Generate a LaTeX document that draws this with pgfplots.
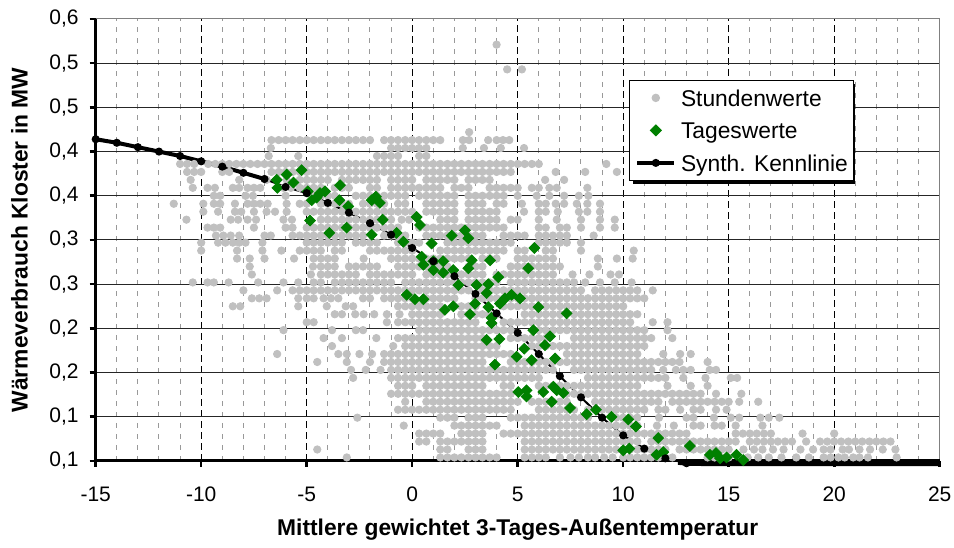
\documentclass[border=0pt]{standalone}
\usepackage{pgfplots}
\pgfplotsset{compat=1.18}
\usepackage{fontspec}
\setmainfont{Liberation Sans}
\definecolor{stunde}{RGB}{192,192,192}
\definecolor{tag}{RGB}{0,128,0}

\begin{document}
\begin{tikzpicture}
\begin{axis}[
  scale only axis, width=422pt, height=221pt,
  xmin=-15, xmax=25, ymin=0.1, ymax=0.6,
  clip=false,
  axis line style={draw=none},
  xtick={-15,-10,-5,0,5,10,15,20,25},
  xticklabels={-15,-10,-5,0,5,10,15,20,25},
  ytick={0.1,0.15,0.2,0.25,0.3,0.35,0.4,0.45,0.5,0.55,0.6},
  yticklabels={{0,1},{0,1},{0,2},{0,2},{0,3},{0,3},{0,4},{0,4},{0,5},{0,5},{0,6}},
  minor x tick num=4,
  xmajorgrids, xminorgrids, ymajorgrids,
  major x grid style={black, line width=0.5pt, dash pattern=on 3.3pt off 2.2pt},
  minor x grid style={black!40, line width=0.5pt, dash pattern=on 2.5pt off 3pt},
  major y grid style={black!85, line width=0.5pt},
  tick align=outside, xtick pos=left, ytick pos=left,
  major tick length=3pt, minor tick length=0pt,
  tick style={black, line width=1.3pt},
  tick label style={font=\fontsize{10.5}{12}\selectfont},
  xticklabel style={anchor=north, inner sep=0pt},
  xticklabel shift=9.85pt,
  yticklabel style={anchor=east, inner sep=0pt},
  yticklabel shift=5.35pt,
  xlabel={Mittlere gewichtet 3-Tages-Außentemperatur},
  ylabel={Wärmeverbrauch Kloster in MW},
  every axis x label/.style={at={(axis description cs:0.5,-0.1697)}, anchor=base,
    font=\bfseries\fontsize{11.4}{13.7}\selectfont},
  every axis y label/.style={at={(axis description cs:-0.0903,0.5)}, anchor=center, rotate=90,
    font=\bfseries\fontsize{11.4}{13.7}\selectfont},
  legend cell align=left,
  legend style={at={(axis description cs:0.632,0.862)}, anchor=north west,
    draw=black, line width=0.5pt, fill=white,
    font=\fontsize{11.4}{13.7}\selectfont,
    inner xsep=2.85pt, inner ysep=2.1pt, row sep=3.05pt, column sep=2.35pt,
    nodes={inner sep=0pt, text height=10.7pt, text depth=2.5pt}},
]
% frame: thin grey top/right, heavy black left/bottom
\draw[black!50, line width=0.5pt] (rel axis cs:0,1) -- (rel axis cs:1,1) -- (rel axis cs:1,0);
\draw[black, line width=1.5pt] (rel axis cs:0,1) -- (rel axis cs:0,0) -- (rel axis cs:1,0);

% hourly values
\addplot[only marks, mark=*, mark size=1.85pt, color=stunde,
  mark options={draw=stunde, fill=stunde},
  legend image code/.code={\fill[stunde] (9.25pt,0pt) circle (1.85pt);}]
coordinates {
(-3.1,.104) (1.33,.104) (1.67,.104) (2,.104) (2.33,.104) (2.67,.104) (3,.104) (3.33,.104) (3.67,.104) (4,.104) (5.33,.104) (5.67,.104) (6,.104) (6.33,.104) (7,.104) (7.5,.104) (7.9,.104) (8.33,.104) (8.67,.104) (9.1,.104) (9.5,.104) (10,.104) (10.33,.104) (10.67,.104) (11,.104) (11.33,.104) (11.67,.104) (12,.104) (12.33,.104) (14,.104) (14.33,.104) (14.67,.104) (15,.104) (15.9,.104) (16.4,.104) (16.9,.104) (17.5,.104) (18.2,.104) (18.8,.104) (19.5,.104) (19.83,.104) (20.2,.104) (20.5,.104) (20.9,.104) (21.2,.104) (21.6,.104) (22.96,.104)
(-4.5,.113) (1.33,.113) (1.67,.113) (2.67,.113) (3,.113) (3.33,.113) (5.33,.113) (5.67,.113) (6,.113) (6.33,.113) (6.67,.113) (7,.113) (7.33,.113) (7.67,.113) (8,.113) (8.33,.113) (8.67,.113) (9,.113) (9.33,.113) (9.67,.113) (10,.113) (10.33,.113) (10.67,.113) (11,.113) (11.33,.113) (11.67,.113) (12,.113) (12.67,.113) (13,.113) (13.33,.113) (13.67,.113) (14,.113) (14.33,.113) (14.67,.113) (15,.113) (15.7,.113) (16.2,.113) (16.6,.113) (17.1,.113) (17.6,.113) (18.4,.113) (19,.113) (19.5,.113) (19.83,.113) (20.4,.113) (20.7,.113) (21.2,.113) (21.7,.113) (22.3,.113) (22.9,.113)
(0.33,.122) (0.67,.122) (1.33,.122) (1.67,.122) (2,.122) (2.33,.122) (2.67,.122) (3,.122) (3.33,.122) (5.33,.122) (5.67,.122) (6,.122) (6.33,.122) (6.67,.122) (7,.122) (7.33,.122) (7.67,.122) (8,.122) (8.33,.122) (8.67,.122) (9,.122) (9.33,.122) (9.67,.122) (10,.122) (10.33,.122) (10.67,.122) (11.33,.122) (11.67,.122) (12,.122) (12.33,.122) (12.67,.122) (13,.122) (13.33,.122) (13.67,.122) (14,.122) (14.33,.122) (14.67,.122) (15,.122) (15.33,.122) (16,.122) (16.33,.122) (16.67,.122) (17,.122) (17.33,.122) (17.67,.122) (18,.122) (18.67,.122) (19.33,.122) (19.67,.122) (20,.122) (20.33,.122) (20.67,.122) (21,.122) (21.33,.122) (21.67,.122) (22,.122) (22.33,.122) (22.67,.122)
(0.33,.131) (0.67,.131) (1,.131) (1.33,.131) (2.33,.131) (2.67,.131) (3,.131) (3.33,.131) (4.33,.131) (4.67,.131) (5,.131) (5.33,.131) (5.67,.131) (6,.131) (6.33,.131) (6.67,.131) (7,.131) (7.33,.131) (7.67,.131) (8,.131) (8.33,.131) (8.67,.131) (9,.131) (9.33,.131) (9.67,.131) (10,.131) (10.33,.131) (10.67,.131) (11,.131) (11.33,.131) (11.67,.131) (12,.131) (12.33,.131) (12.67,.131) (13,.131) (15.33,.131) (15.67,.131) (16,.131) (16.33,.131) (16.67,.131) (17,.131) (18.5,.131) (20,.131)
(-0.4,.140) (2,.140) (2.33,.140) (2.67,.140) (3,.140) (3.33,.140) (3.67,.140) (4,.140) (5.33,.140) (5.67,.140) (6,.140) (6.33,.140) (6.67,.140) (7,.140) (7.33,.140) (7.67,.140) (8,.140) (8.33,.140) (8.67,.140) (9,.140) (9.33,.140) (9.67,.140) (10,.140) (10.33,.140) (10.67,.140) (11.6,.140) (12.4,.140) (13.33,.140) (13.67,.140) (14.33,.140) (14.67,.140) (15.33,.140) (16.6,.140)
(-2.6,.149) (1.33,.149) (1.67,.149) (2,.149) (2.67,.149) (3,.149) (3.33,.149) (4.67,.149) (5,.149) (5.33,.149) (5.67,.149) (6,.149) (6.33,.149) (6.67,.149) (7,.149) (7.33,.149) (7.67,.149) (8,.149) (8.33,.149) (9.67,.149) (10,.149) (10.33,.149) (10.67,.149) (11.7,.149) (13,.149) (13.33,.149) (14.3,.149) (15.1,.149) (15.5,.149) (16.5,.149) (16.9,.149) (17.4,.149)
(-0.67,.158) (-0.33,.158) (0,.158) (0.33,.158) (0.67,.158) (1,.158) (1.33,.158) (1.67,.158) (2,.158) (2.33,.158) (2.67,.158) (3,.158) (3.33,.158) (3.67,.158) (4,.158) (4.33,.158) (4.67,.158) (6,.158) (6.33,.158) (6.67,.158) (7,.158) (7.33,.158) (7.67,.158) (8.33,.158) (8.67,.158) (9,.158) (9.33,.158) (9.67,.158) (10,.158) (10.33,.158) (10.67,.158) (11,.158) (11.67,.158) (12,.158) (12.7,.158) (13.33,.158) (13.67,.158) (14.4,.158) (14.9,.158)
(-0.33,.167) (0.67,.167) (1,.167) (1.33,.167) (1.67,.167) (2,.167) (2.33,.167) (2.67,.167) (3,.167) (3.33,.167) (3.67,.167) (4,.167) (4.33,.167) (4.67,.167) (5,.167) (5.67,.167) (6,.167) (6.33,.167) (6.67,.167) (7,.167) (7.33,.167) (8.67,.167) (9,.167) (9.33,.167) (9.67,.167) (10,.167) (10.33,.167) (10.67,.167) (11,.167) (11.33,.167) (11.67,.167) (12.33,.167) (12.67,.167) (13,.167) (13.33,.167) (13.67,.167) (14,.167) (14.33,.167) (14.67,.167) (15,.167) (15.5,.167) (16.4,.167)
(-1,.176) (-0.67,.176) (-0.33,.176) (0,.176) (0.33,.176) (0.67,.176) (1,.176) (1.33,.176) (1.67,.176) (2,.176) (2.33,.176) (2.67,.176) (3,.176) (3.33,.176) (3.67,.176) (4,.176) (4.33,.176) (4.67,.176) (7.33,.176) (7.67,.176) (8,.176) (8.33,.176) (8.67,.176) (9,.176) (9.33,.176) (9.67,.176) (10,.176) (10.33,.176) (10.67,.176) (11,.176) (11.33,.176) (11.67,.176) (12,.176) (12.33,.176) (12.67,.176) (13,.176) (13.33,.176) (13.67,.176) (14.4,.176) (15.6,.176)
(-0.67,.185) (-0.33,.185) (0,.185) (0.67,.185) (1,.185) (1.33,.185) (1.67,.185) (2,.185) (2.33,.185) (2.67,.185) (3,.185) (3.33,.185) (4.33,.185) (4.67,.185) (6,.185) (6.33,.185) (6.67,.185) (7,.185) (7.33,.185) (7.67,.185) (8,.185) (8.33,.185) (8.67,.185) (9,.185) (9.33,.185) (9.67,.185) (10,.185) (10.33,.185) (10.67,.185) (12.1,.185) (13.2,.185) (14,.185)
(-2.8,.194) (-1,.194) (-0.67,.194) (-0.33,.194) (0,.194) (0.33,.194) (0.67,.194) (1,.194) (1.33,.194) (1.67,.194) (2,.194) (2.33,.194) (2.67,.194) (3,.194) (3.33,.194) (3.67,.194) (4,.194) (4.33,.194) (4.67,.194) (5,.194) (5.33,.194) (5.67,.194) (6,.194) (8.33,.194) (8.67,.194) (9,.194) (9.33,.194) (9.67,.194) (10,.194) (10.33,.194) (10.67,.194) (11,.194) (11.33,.194) (11.67,.194) (12,.194) (12.85,.194) (13.9,.194) (15.1,.194) (15.4,.194)
(-2.9,.203) (-2.2,.203) (-1.5,.203) (-1,.203) (-0.67,.203) (-0.33,.203) (0,.203) (0.33,.203) (0.67,.203) (1,.203) (1.33,.203) (1.67,.203) (2,.203) (2.33,.203) (2.67,.203) (3,.203) (3.33,.203) (3.67,.203) (4,.203) (4.33,.203) (4.67,.203) (5,.203) (5.33,.203) (5.67,.203) (6,.203) (6.33,.203) (6.67,.203) (7.67,.203) (8,.203) (8.33,.203) (8.67,.203) (9,.203) (9.33,.203) (9.67,.203) (10,.203) (10.33,.203) (10.67,.203) (11,.203) (11.33,.203) (11.9,.203) (12.5,.203) (12.85,.203) (13.2,.203) (14.1,.203) (14.4,.203)
(-4.5,.212) (-3.1,.212) (-2,.212) (-1.33,.212) (-1,.212) (-0.67,.212) (-0.33,.212) (0,.212) (0.33,.212) (0.67,.212) (1,.212) (1.33,.212) (1.67,.212) (2,.212) (2.33,.212) (2.67,.212) (3,.212) (3.33,.212) (4.67,.212) (5,.212) (5.33,.212) (5.67,.212) (6,.212) (6.33,.212) (6.67,.212) (7,.212) (7.33,.212) (7.67,.212) (8,.212) (8.33,.212) (8.67,.212) (9,.212) (9.33,.212) (9.67,.212) (10,.212) (10.33,.212) (10.67,.212) (11,.212) (11.33,.212) (11.67,.212) (12,.212) (12.33,.212) (12.67,.212) (14,.212)
(-6.4,.221) (-3.5,.221) (-3.1,.221) (-2.5,.221) (-1.9,.221) (-1.33,.221) (-1,.221) (-0.67,.221) (-0.33,.221) (0,.221) (0.33,.221) (0.67,.221) (1,.221) (1.33,.221) (1.67,.221) (2,.221) (2.33,.221) (2.67,.221) (3,.221) (3.33,.221) (3.67,.221) (4,.221) (4.33,.221) (4.67,.221) (7.33,.221) (7.67,.221) (8,.221) (8.33,.221) (8.67,.221) (9,.221) (9.33,.221) (9.67,.221) (10,.221) (10.33,.221) (10.67,.221) (11.9,.221) (12.7,.221) (13.2,.221)
(-3.8,.230) (-0.9,.230) (-0.33,.230) (0,.230) (0.33,.230) (0.67,.230) (1,.230) (1.33,.230) (1.67,.230) (2,.230) (2.33,.230) (2.67,.230) (3,.230) (3.33,.230) (3.67,.230) (4,.230) (5.67,.230) (6,.230) (6.33,.230) (6.67,.230) (7,.230) (7.33,.230) (7.67,.230) (8,.230) (8.33,.230) (8.67,.230) (9,.230) (9.33,.230) (9.67,.230) (10,.230) (10.33,.230) (10.67,.230) (11,.230)
(-4.2,.239) (-3.33,.239) (-1.7,.239) (-0.67,.239) (-0.33,.239) (0,.239) (0.33,.239) (0.67,.239) (1,.239) (1.33,.239) (1.67,.239) (2,.239) (2.33,.239) (2.67,.239) (3,.239) (3.33,.239) (4.67,.239) (5,.239) (5.33,.239) (5.67,.239) (6,.239) (6.33,.239) (7.67,.239) (8,.239) (8.33,.239) (8.67,.239) (9,.239) (9.33,.239) (9.67,.239) (10,.239) (10.33,.239) (10.67,.239) (11,.239) (11.33,.239) (12.33,.239)
(-6.1,.248) (-3.8,.248) (-2.67,.248) (-2.33,.248) (0.33,.248) (0.67,.248) (1,.248) (1.33,.248) (1.67,.248) (2,.248) (2.33,.248) (2.67,.248) (3,.248) (3.33,.248) (3.67,.248) (4,.248) (4.33,.248) (4.67,.248) (6,.248) (6.33,.248) (6.67,.248) (7,.248) (7.33,.248) (7.67,.248) (8,.248) (8.33,.248) (8.67,.248) (9,.248) (9.33,.248) (9.67,.248) (10,.248) (10.33,.248) (10.67,.248) (11,.248) (12.1,.248)
(-5,.257) (-4.67,.257) (-1.2,.257) (-0.67,.257) (-0.33,.257) (0,.257) (0.33,.257) (0.67,.257) (1,.257) (1.33,.257) (1.67,.257) (2,.257) (2.33,.257) (2.67,.257) (3,.257) (4.33,.257) (4.67,.257) (5,.257) (5.33,.257) (5.67,.257) (6,.257) (6.33,.257) (6.67,.257) (7,.257) (7.33,.257) (7.67,.257) (8,.257) (8.33,.257) (8.67,.257) (9,.257) (9.33,.257) (9.67,.257) (10,.257) (10.33,.257) (11.4,.257) (12.1,.257)
(-3.67,.266) (-3.33,.266) (-2.7,.266) (-2.3,.266) (-1.8,.266) (-1.2,.266) (-0.6,.266) (0,.266) (0.33,.266) (0.67,.266) (1,.266) (1.33,.266) (2.33,.266) (2.67,.266) (3,.266) (3.33,.266) (3.67,.266) (4,.266) (5.33,.266) (5.67,.266) (6,.266) (6.33,.266) (6.67,.266) (7,.266) (7.67,.266) (8,.266) (8.33,.266) (8.67,.266) (9,.266) (9.33,.266) (9.67,.266) (10,.266) (10.33,.266) (10.67,.266)
(-8.5,.275) (-8.15,.275) (-5.4,.275) (-4.05,.275) (-3.15,.275) (-2.8,.275) (-0.67,.275) (-0.33,.275) (0,.275) (0.33,.275) (0.67,.275) (1,.275) (1.33,.275) (2,.275) (2.33,.275) (2.67,.275) (3,.275) (4.33,.275) (4.67,.275) (5,.275) (5.33,.275) (5.67,.275) (6,.275) (6.33,.275) (6.67,.275) (7,.275) (7.33,.275) (7.67,.275) (8,.275) (8.33,.275) (8.67,.275) (9,.275) (9.33,.275) (9.67,.275) (10,.275)
(-7.6,.284) (-7.25,.284) (-6.9,.284) (-5.4,.284) (-5,.284) (-4.67,.284) (-4.2,.284) (-3.85,.284) (-3.5,.284) (-2.33,.284) (-2,.284) (-1.33,.284) (-1,.284) (-0.67,.284) (-0.33,.284) (0,.284) (0.67,.284) (1,.284) (1.33,.284) (1.67,.284) (2,.284) (3,.284) (3.33,.284) (3.67,.284) (4,.284) (4.33,.284) (4.67,.284) (5,.284) (5.33,.284) (5.67,.284) (6,.284) (6.33,.284) (6.67,.284) (7,.284) (7.33,.284) (7.67,.284) (8,.284) (8.33,.284) (8.67,.284) (9,.284) (9.33,.284) (9.67,.284) (10,.284) (10.33,.284) (10.67,.284) (11,.284)
(-8,.293) (-6.4,.293) (-5.67,.293) (-5.33,.293) (-5,.293) (-4.67,.293) (-4.33,.293) (-4,.293) (-3.67,.293) (-3.33,.293) (-3,.293) (-2.67,.293) (-2.33,.293) (-2,.293) (-1.67,.293) (-1.33,.293) (-1,.293) (-0.67,.293) (-0.33,.293) (0,.293) (0.33,.293) (0.67,.293) (1,.293) (1.33,.293) (1.67,.293) (2,.293) (2.33,.293) (2.67,.293) (3.33,.293) (3.67,.293) (4,.293) (4.33,.293) (4.67,.293) (5,.293) (5.33,.293) (5.67,.293) (6,.293) (6.33,.293) (6.67,.293) (7,.293) (7.33,.293) (7.67,.293) (8,.293) (8.67,.293) (9,.293) (9.33,.293) (9.67,.293) (10,.293) (10.33,.293) (10.67,.293) (11.4,.293)
(-10.4,.302) (-9.7,.302) (-9.4,.302) (-8.7,.302) (-7.3,.302) (-6.1,.302) (-5.4,.302) (-4.67,.302) (-4.33,.302) (-3.67,.302) (-3.33,.302) (-3,.302) (-2.67,.302) (-2.33,.302) (-2,.302) (-1.67,.302) (-1.33,.302) (-1,.302) (-0.33,.302) (0,.302) (0.33,.302) (0.67,.302) (1,.302) (1.33,.302) (1.67,.302) (2,.302) (2.33,.302) (2.67,.302) (3,.302) (3.33,.302) (3.67,.302) (4,.302) (4.67,.302) (5,.302) (5.33,.302) (5.67,.302) (6,.302) (6.33,.302) (6.67,.302) (7,.302) (7.33,.302) (7.67,.302) (8.2,.302) (8.9,.302) (9.6,.302) (10.4,.302)
(-7.6,.311) (-4.8,.311) (-4.33,.311) (-4,.311) (-3.67,.311) (-3.33,.311) (-3,.311) (-2.67,.311) (-2,.311) (-1.67,.311) (-1.33,.311) (-1,.311) (-0.67,.311) (-0.33,.311) (0,.311) (0.67,.311) (1,.311) (1.33,.311) (1.67,.311) (2,.311) (2.33,.311) (2.67,.311) (3,.311) (3.33,.311) (4,.311) (4.33,.311) (4.67,.311) (5,.311) (5.33,.311) (5.67,.311) (6,.311) (6.33,.311) (6.67,.311) (7.6,.311) (8.4,.311) (9.4,.311) (9.8,.311)
(-7.7,.320) (-4.7,.320) (-4.33,.320) (-4,.320) (-3.67,.320) (-3,.320) (-2.67,.320) (-2.33,.320) (-2,.320) (-1.67,.320) (-0.67,.320) (-0.33,.320) (0,.320) (0.33,.320) (0.67,.320) (1,.320) (1.33,.320) (1.67,.320) (2.67,.320) (3,.320) (3.33,.320) (4.67,.320) (5,.320) (5.33,.320) (5.67,.320) (6,.320) (6.33,.320) (6.67,.320) (7,.320) (8.8,.320)
(-8.3,.329) (-7.7,.329) (-7,.329) (-5.6,.329) (-4.67,.329) (-4.33,.329) (-4,.329) (-3.67,.329) (-2.3,.329) (-1,.329) (-0.67,.329) (-0.33,.329) (0,.329) (0.33,.329) (0.67,.329) (1,.329) (1.33,.329) (1.67,.329) (2,.329) (2.33,.329) (2.67,.329) (3.33,.329) (3.67,.329) (4,.329) (5,.329) (5.33,.329) (5.67,.329) (6,.329) (6.33,.329) (6.67,.329) (8.8,.329) (9.7,.329) (10.45,.329)
(-10,.338) (-8.3,.338) (-7.1,.338) (-6.2,.338) (-5.33,.338) (-5,.338) (-4.67,.338) (-4.33,.338) (-3.67,.338) (-3.33,.338) (-2,.338) (-1.67,.338) (-1.33,.338) (-1,.338) (-0.67,.338) (-0.33,.338) (0,.338) (1.33,.338) (1.67,.338) (2,.338) (2.33,.338) (2.67,.338) (3,.338) (3.33,.338) (3.67,.338) (4,.338) (4.33,.338) (5,.338) (5.33,.338) (6.33,.338) (6.67,.338) (8,.338) (10.5,.338)
(-10,.347) (-9.2,.347) (-8.85,.347) (-8.5,.347) (-8.2,.347) (-7.9,.347) (-7.1,.347) (-5,.347) (-4.67,.347) (-4.33,.347) (-4,.347) (-3.67,.347) (-3.33,.347) (-2.67,.347) (-2.33,.347) (-2,.347) (-1.67,.347) (-0.67,.347) (-0.33,.347) (0,.347) (0.33,.347) (1.67,.347) (2,.347) (2.33,.347) (2.67,.347) (3,.347) (3.33,.347) (3.67,.347) (4,.347) (4.33,.347) (4.67,.347) (6,.347) (6.33,.347) (6.67,.347) (7,.347) (7.33,.347) (8,.347)
(-9.3,.355) (-8.95,.355) (-8.6,.355) (-8.2,.355) (-7,.355) (-6.7,.355) (-5.67,.355) (-5.33,.355) (-5,.355) (-4.67,.355) (-4.33,.355) (-4,.355) (-3.67,.355) (-3.33,.355) (-3,.355) (-2.67,.355) (-2.33,.355) (-1.33,.355) (-1,.355) (-0.67,.355) (-0.33,.355) (0.67,.355) (1,.355) (1.33,.355) (1.67,.355) (2,.355) (2.33,.355) (2.67,.355) (3,.355) (3.33,.355) (4.33,.355) (4.67,.355) (5,.355) (5.33,.355) (6,.355) (6.33,.355) (6.67,.355) (7,.355) (7.33,.355) (8.6,.355)
(-9.7,.364) (-9.4,.364) (-9.1,.364) (-7.5,.364) (-6,.364) (-5.67,.364) (-5,.364) (-4.67,.364) (-4.33,.364) (-4,.364) (-3.67,.364) (-3.33,.364) (-3,.364) (-2.67,.364) (-2.33,.364) (-2,.364) (-1.67,.364) (-1.33,.364) (-1,.364) (-0.67,.364) (0.33,.364) (0.67,.364) (1,.364) (1.33,.364) (1.67,.364) (2,.364) (2.33,.364) (2.67,.364) (3,.364) (3.33,.364) (3.67,.364) (4,.364) (4.33,.364) (6,.364) (6.33,.364) (7,.364) (7.33,.364) (8,.364) (8.9,.364) (9.6,.364)
(-10.7,.373) (-8.6,.373) (-8.25,.373) (-7.8,.373) (-7.4,.373) (-6.1,.373) (-5.7,.373) (-4.33,.373) (-4,.373) (-3.67,.373) (-3.33,.373) (-3,.373) (-2.67,.373) (-2.33,.373) (-2,.373) (-1.67,.373) (-1.33,.373) (-1,.373) (-0.5,.373) (-0.15,.373) (1.33,.373) (1.67,.373) (2,.373) (2.67,.373) (3,.373) (3.33,.373) (3.67,.373) (4,.373) (4.67,.373) (5,.373) (6,.373) (6.85,.373) (8,.373) (8.9,.373) (9.6,.373)
(-9.9,.382) (-9.2,.382) (-8.4,.382) (-8.1,.382) (-7.5,.382) (-6.9,.382) (-6.5,.382) (-5.95,.382) (-5,.382) (-4.67,.382) (-4.33,.382) (-4,.382) (-3.67,.382) (-3.33,.382) (-3,.382) (-2.67,.382) (-2.33,.382) (-2,.382) (-1.67,.382) (-1.33,.382) (-1,.382) (-0.67,.382) (-0.33,.382) (0,.382) (0.67,.382) (1,.382) (1.33,.382) (1.67,.382) (2,.382) (2.67,.382) (3,.382) (3.33,.382) (3.67,.382) (4,.382) (5.3,.382) (6,.382) (6.33,.382) (6.9,.382) (7.9,.382) (8.3,.382) (8.9,.382)
(-11.3,.391) (-9.9,.391) (-9.4,.391) (-9.1,.391) (-8.4,.391) (-7.8,.391) (-7.5,.391) (-7.2,.391) (-6.85,.391) (-5.95,.391) (-5.33,.391) (-5,.391) (-4.33,.391) (-4,.391) (-3.67,.391) (-3.33,.391) (-3,.391) (-2.33,.391) (-2,.391) (-1.67,.391) (-1.33,.391) (-0.67,.391) (-0.33,.391) (0.67,.391) (1,.391) (1.33,.391) (1.67,.391) (2,.391) (2.67,.391) (3,.391) (3.33,.391) (4,.391) (4.33,.391) (5.2,.391) (6,.391) (6.33,.391) (6.8,.391) (7.2,.391) (7.8,.391) (8.3,.391) (8.9,.391)
(-9.4,.400) (-9.1,.400) (-7.9,.400) (-7.55,.400) (-6,.400) (-4.67,.400) (-4.33,.400) (-4,.400) (-3.67,.400) (-2.67,.400) (-2.33,.400) (-2,.400) (-1.67,.400) (-1.33,.400) (-1,.400) (-0.67,.400) (-0.33,.400) (0.33,.400) (0.67,.400) (1,.400) (1.33,.400) (1.67,.400) (2,.400) (2.67,.400) (3,.400) (3.33,.400) (3.67,.400) (4,.400) (4.33,.400) (5,.400) (5.9,.400) (6.5,.400) (7.2,.400) (7.9,.400) (8.35,.400)
(-10.4,.409) (-9.7,.409) (-9.35,.409) (-8.5,.409) (-8.2,.409) (-7.8,.409) (-7.5,.409) (-7.2,.409) (-6.1,.409) (-5.75,.409) (-5.33,.409) (-5,.409) (-4.67,.409) (-4.33,.409) (-3.67,.409) (-3.33,.409) (-3,.409) (-2,.409) (-1.67,.409) (-1,.409) (-0.67,.409) (-0.33,.409) (0,.409) (0.33,.409) (0.67,.409) (1,.409) (1.33,.409) (2,.409) (2.33,.409) (2.67,.409) (3.67,.409) (4,.409) (4.33,.409) (4.67,.409) (5,.409) (5.67,.409) (6,.409) (6.5,.409) (6.85,.409) (8.3,.409)
(-10.5,.418) (-8.2,.418) (-6.9,.418) (-5.95,.418) (-5.33,.418) (-5,.418) (-4.67,.418) (-4.33,.418) (-4,.418) (-3.33,.418) (-3,.418) (-2.67,.418) (-2.33,.418) (-2,.418) (-1.67,.418) (-1,.418) (-0.67,.418) (-0.33,.418) (0,.418) (0.67,.418) (1,.418) (1.33,.418) (1.67,.418) (2,.418) (2.67,.418) (3,.418) (3.33,.418) (3.67,.418) (6.3,.418) (7.2,.418)
(-10.67,.427) (-10.33,.427) (-10,.427) (-9,.427) (-8.67,.427) (-6.67,.427) (-6.33,.427) (-6,.427) (-5.67,.427) (-5.33,.427) (-5,.427) (-4.67,.427) (-4.33,.427) (-4,.427) (-3.67,.427) (-3.33,.427) (-3,.427) (-2.67,.427) (-2.33,.427) (-2,.427) (-1.67,.427) (-1.33,.427) (-1,.427) (-0.67,.427) (-0.33,.427) (0,.427) (0.33,.427) (0.67,.427) (1,.427) (1.33,.427) (1.67,.427) (2,.427) (2.33,.427) (2.67,.427) (3,.427) (3.33,.427) (3.67,.427) (4,.427) (4.33,.427) (4.67,.427) (6.8,.427) (8.2,.427) (9.7,.427)
(-11,.436) (-10.67,.436) (-10.33,.436) (-9.67,.436) (-9.33,.436) (-9,.436) (-8.67,.436) (-8.33,.436) (-8,.436) (-7.67,.436) (-7.33,.436) (-7,.436) (-6.67,.436) (-6.33,.436) (-6,.436) (-5.67,.436) (-5.33,.436) (-5,.436) (-4.67,.436) (-4.33,.436) (-4,.436) (-3.67,.436) (-3.33,.436) (-3,.436) (-2.67,.436) (-2.33,.436) (-2,.436) (-1.67,.436) (-1.33,.436) (-1,.436) (-0.67,.436) (-0.33,.436) (0,.436) (0.33,.436) (0.67,.436) (1,.436) (1.33,.436) (1.67,.436) (2,.436) (2.33,.436) (2.67,.436) (3,.436) (3.33,.436) (3.67,.436) (4,.436) (4.33,.436) (4.67,.436) (5,.436) (5.33,.436) (5.67,.436) (6,.436) (9.2,.436)
(-6.8,.445) (-5.4,.445) (-1.67,.445) (-1.33,.445) (-1,.445) (-0.67,.445) (0.33,.445) (0.67,.445)
(-6.7,.454) (-1,.454) (-0.67,.454) (-0.33,.454) (0,.454) (0.33,.454) (0.67,.454) (2.4,.454) (3.4,.454) (4.2,.454) (5.3,.454)
(-6.67,.463) (-6.33,.463) (-6,.463) (-5.67,.463) (-5.33,.463) (-5,.463) (-4.67,.463) (-4.33,.463) (-4,.463) (-3.67,.463) (-3.33,.463) (-3,.463) (-2.67,.463) (-2.33,.463) (-2,.463) (-1.33,.463) (-1,.463) (-0.67,.463) (-0.33,.463) (0,.463) (0.33,.463) (0.67,.463) (1,.463) (1.33,.463) (2.4,.463) (2.7,.463) (3.6,.463) (4,.463) (4.3,.463) (4.6,.463)
(2.7,.472) (4,.571) (4.5,.543) (5.2,.543)
};
\addlegendentry{Stundenwerte}

% daily values
\addplot[only marks, mark=square*, mark size=1.9pt, color=tag,
  mark options={rotate=45, draw=tag, fill=tag},
  legend image code/.code={\fill[tag] (9.25pt,2.69pt) -- (11.94pt,0pt) -- (9.25pt,-2.69pt) -- (6.56pt,0pt) -- cycle;}]
coordinates {
(-6.42,.418) (-6.39,.409) (-5.95,.424) (-5.63,.415) (-5.24,.429) (-4.95,.405) (-4.76,.395) (-4.84,.372) (-4.53,.398) (-4.37,.403) (-4.13,.405) (-3.93,.358) (-3.42,.412) (-3.45,.395) (-3.11,.364) (-3.03,.388) (-1.92,.395) (-1.72,.399) (-1.53,.392) (-1.40,.373) (-1.92,.356) (-0.74,.358) (-0.42,.348)
(0.21,.376) (0.37,.367) (0.92,.346) (0.45,.331) (0.53,.322) (1.0,.326) (1.47,.326) (1.0,.316) (1.47,.313) (1.87,.355) (2.5,.361) (2.66,.352) (2.82,.327) (3.69,.327) (2.66,.318) (1.95,.316) (2.19,.299) (3.05,.299) (3.61,.300) (4.08,.308) (5.5,.318) (5.79,.341)
(-0.26,.288) (0.13,.283) (0.53,.283) (1.55,.271) (1.95,.275) (2.74,.266) (2.98,.278) (3.53,.290) (3.61,.274) (3.76,.262) (3.76,.256) (4.16,.278) (4.40,.284) (4.71,.288) (5.11,.284) (5.98,.274) (7.32,.267) (3.53,.237) (4.13,.238) (3.92,.209) (5.74,.248) (6.53,.241) (6.29,.231) (5.31,.227) (4.95,.218) (5.66,.214) (6.77,.216)
(5.03,.178) (5.42,.180) (5.42,.173) (6.21,.178) (6.69,.184) (6.85,.180) (7.16,.177) (6.61,.167) (7.48,.160) (8.27,.153) (8.71,.158) (9.45,.150) (10.24,.147) (10.6,.139) (10.0,.112) (10.29,.114) (11.66,.126) (13.16,.117) (11.9,.110) (11.58,.107) (14.11,.107) (14.4,.109) (14.59,.103) (14.9,.104) (15.37,.107) (15.69,.101)
};
\addlegendentry{Tageswerte}

% synthetic characteristic curve
\addplot[black, line width=1pt, mark=*, mark size=1.5pt, mark options={solid},
  legend image code/.code={\draw[line width=2pt] (0pt,0pt) -- (18.5pt,0pt); \fill (9.25pt,0pt) circle (1.5pt);}]
coordinates {
(-15,.464) (-14,.460) (-13,.455) (-12,.450) (-11,.445) (-10,.439) (-9,.433) (-8,.426) (-7,.419) (-6,.410) (-5,.403) (-4,.392) (-3,.381) (-2,.369) (-1,.356) (0,.341) (1,.326) (2,.309) (3,.289) (4,.267) (5,.245) (6,.221) (7,.196) (8,.172) (9,.149) (10,.129) (11,.114) (12,.103) (13,.0975)
};
\addlegendentry{Synth. Kennlinie}
\addplot[black, line width=2pt, forget plot] coordinates {
(-15,.464) (-14,.460) (-13,.455) (-12,.450) (-11,.445) (-10,.439) (-9,.433) (-8,.426) (-7,.419)
};
\addplot[black, line width=2.5pt, forget plot] coordinates {
(12.6,.0985) (13,.0975) (14,.097) (15,.097) (16,.097) (17,.097) (18,.097) (19,.097) (20,.097) (21,.097) (22,.097) (23,.097) (24,.097) (25,.097)
};

% solid shadow behind the legend box
\fill[black] (axis description cs:0.6371,0.6258) rectangle (axis description cs:0.9001,0.852);
\end{axis}
\pgfresetboundingbox
\path[use as bounding box] ([xshift=-47.85pt,yshift=-43.5pt]current axis.south west) rectangle ([xshift=7.15pt,yshift=9.5pt]current axis.north east);
\end{tikzpicture}
\end{document}
